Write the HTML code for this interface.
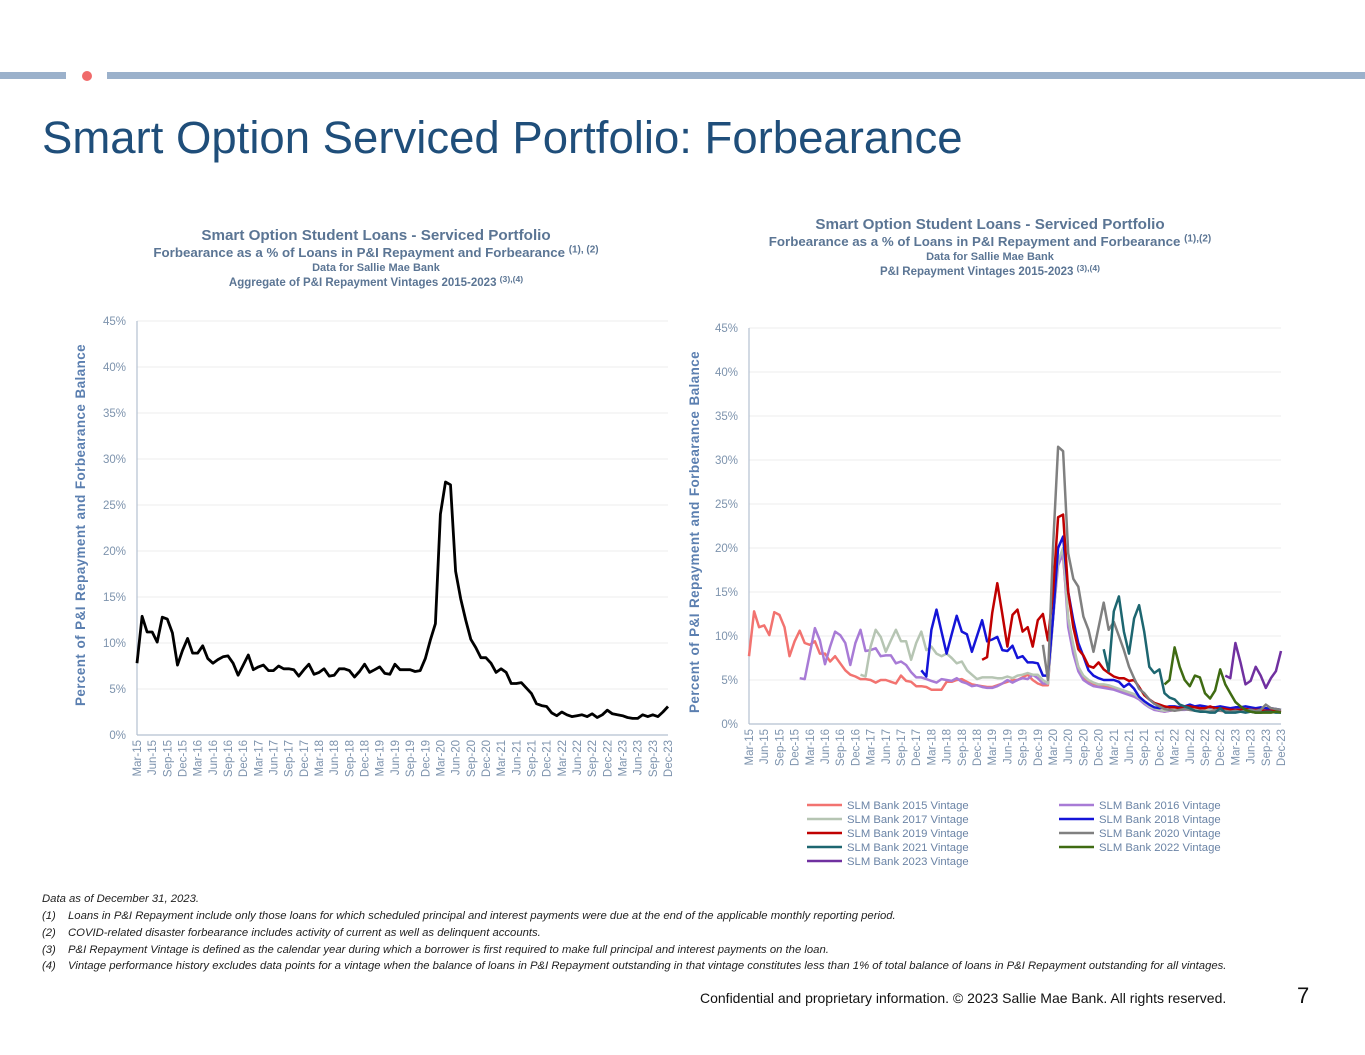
<!DOCTYPE html>
<html><head><meta charset="utf-8">
<style>
body{margin:0;width:1365px;height:1055px;background:#fff;font-family:"Liberation Sans",sans-serif;position:relative;overflow:hidden}
.abs{position:absolute}
.ct{position:absolute;text-align:center;color:#5b7594;font-weight:bold;white-space:nowrap}
.fn{position:absolute;font-size:11.3px;font-style:italic;color:#222;white-space:nowrap}
sup{font-size:0.75em;vertical-align:0.45em;line-height:0}
</style></head><body>
<div class="abs" style="left:0;top:72px;width:66px;height:7px;background:#9bb1cb"></div>
<div class="abs" style="left:82px;top:71px;width:10px;height:10px;border-radius:50%;background:#f06a6a"></div>
<div class="abs" style="left:107px;top:72px;width:1258px;height:7px;background:#9bb1cb"></div>
<div class="abs" style="left:42px;top:112px;font-size:45.5px;color:#1f4e7a;white-space:nowrap">Smart Option Serviced Portfolio: Forbearance</div>

<div class="ct" style="left:126px;width:500px;top:227px;font-size:15.2px">Smart Option Student Loans - Serviced Portfolio</div>
<div class="ct" style="left:76px;width:600px;top:245px;font-size:13.3px">Forbearance as a % of Loans in P&amp;I Repayment and Forbearance <sup>(1), (2)</sup></div>
<div class="ct" style="left:126px;width:500px;top:262px;font-size:11px">Data for Sallie Mae Bank</div>
<div class="ct" style="left:126px;width:500px;top:277px;font-size:11.5px">Aggregate of P&amp;I Repayment Vintages 2015-2023 <sup>(3),(4)</sup></div>

<div class="ct" style="left:740px;width:500px;top:216px;font-size:15.2px">Smart Option Student Loans - Serviced Portfolio</div>
<div class="ct" style="left:690px;width:600px;top:234px;font-size:13.3px">Forbearance as a % of Loans in P&amp;I Repayment and Forbearance <sup>(1),(2)</sup></div>
<div class="ct" style="left:740px;width:500px;top:251px;font-size:11px">Data for Sallie Mae Bank</div>
<div class="ct" style="left:740px;width:500px;top:266px;font-size:11.5px">P&amp;I Repayment Vintages 2015-2023 <sup>(3),(4)</sup></div>

<svg id="chart" class="abs" style="left:0;top:0" width="1365" height="1055"></svg>

<div class="fn" style="left:42px;top:893px">Data as of December 31, 2023.</div>
<div class="fn" style="left:42px;top:910px">(1)<span style="position:absolute;left:26px">Loans in P&amp;I Repayment include only those loans for which scheduled principal and interest payments were due at the end of the applicable monthly reporting period.</span></div>
<div class="fn" style="left:42px;top:927px">(2)<span style="position:absolute;left:26px">COVID-related disaster forbearance includes activity of current as well as delinquent accounts.</span></div>
<div class="fn" style="left:42px;top:944px">(3)<span style="position:absolute;left:26px">P&amp;I Repayment Vintage is defined as the calendar year during which a borrower is first required to make full principal and interest payments on the loan.</span></div>
<div class="fn" style="left:42px;top:960px">(4)<span style="position:absolute;left:26px">Vintage performance history excludes data points for a vintage when the balance of loans in P&amp;I Repayment outstanding in that vintage constitutes less than 1% of total balance of loans in P&amp;I Repayment outstanding for all vintages.</span></div>
<div class="abs" style="left:700px;top:990px;font-size:14px;color:#111;white-space:nowrap">Confidential and proprietary information. © 2023 Sallie Mae Bank. All rights reserved.</div>
<div class="abs" style="left:1297px;top:983px;font-size:22px;color:#111">7</div>

<script>
const months=["Mar","Apr","May","Jun","Jul","Aug","Sep","Oct","Nov","Dec","Jan","Feb"];
const categories=[];
for(let i=0;i<106;i++){const m=(i)%12;const yr=15+Math.floor((i+2)/12);categories.push(months[m]+"-"+yr);}
const yTicks=[0,5,10,15,20,25,30,35,40,45];
const aggregate=[7.8,12.9,11.2,11.2,10.1,12.8,12.6,11.1,7.6,9.2,10.5,8.9,8.9,9.7,8.3,7.8,8.2,8.5,8.6,7.8,6.5,7.6,8.7,7.1,7.4,7.6,7.0,7.0,7.5,7.2,7.2,7.1,6.4,7.1,7.7,6.6,6.8,7.2,6.4,6.5,7.2,7.2,7.0,6.3,6.9,7.7,6.8,7.1,7.4,6.7,6.6,7.7,7.1,7.1,7.1,6.9,7.0,8.3,10.3,12.1,24,27.5,27.2,17.8,14.8,12.5,10.4,9.5,8.4,8.4,7.8,6.8,7.2,6.8,5.6,5.6,5.7,5.1,4.5,3.4,3.2,3.1,2.4,2.1,2.5,2.2,2.0,2.1,2.2,2.0,2.3,1.9,2.2,2.7,2.3,2.2,2.1,1.9,1.8,1.8,2.2,2.0,2.2,2.0,2.5,3.1];
const seriesNames=["SLM Bank 2015 Vintage","SLM Bank 2016 Vintage","SLM Bank 2017 Vintage","SLM Bank 2018 Vintage","SLM Bank 2019 Vintage","SLM Bank 2020 Vintage","SLM Bank 2021 Vintage","SLM Bank 2022 Vintage","SLM Bank 2023 Vintage"];
const seriesStart=[0,10,22,34,46,58,70,82,94];
const v2015=[7.7,12.8,11,11.2,10.1,12.7,12.4,11,7.7,9.4,10.6,9.2,9.0,9.4,8.0,8.0,7.1,7.7,6.9,6.1,5.6,5.4,5.1,5.1,5.0,4.7,5.0,5.0,4.8,4.6,5.5,4.9,4.8,4.3,4.3,4.2,3.9,3.9,3.9,4.8,4.8,5.0,5.1,4.8,4.5,4.4,4.3,4.2,4.2,4.4,4.6,4.8,5.0,5.0,5.3,5.6,5.0,4.6,4.4,4.4,12,18.5,19,12,8.5,6.5,5.2,4.8,4.5,4.4,4.3,4.2,4.0,3.8,3.6,3.5,3.2,3.0,2.5,2.0,1.7,1.5,1.4,1.5,1.6,1.6,1.7,1.6,1.6,1.5,1.5,1.6,1.5,1.5,1.4,1.5,1.5,1.4,1.5,1.5,1.6,1.6,1.5,1.5,1.5,1.4];
const v2016=[5.2,5.1,8.0,10.9,9.5,6.8,8.8,10.5,10.1,9.2,6.7,9.2,10.7,8.3,8.4,8.6,7.7,7.8,7.8,6.9,7.1,6.7,5.9,5.3,5.3,5.1,4.9,4.7,5.1,5.0,4.9,5.2,4.8,4.6,4.3,4.4,4.2,4.1,4.1,4.3,4.6,5.0,4.7,5.0,5.2,5.1,5.6,5.2,4.6,4.6,12,18,19.5,11,8,6,5.0,4.6,4.3,4.2,4.1,4.0,3.9,3.7,3.5,3.3,3.1,2.8,2.3,1.9,1.6,1.5,1.4,1.5,1.6,1.6,1.6,1.7,1.6,1.6,1.5,1.6,1.5,1.5,1.5,1.5,1.5,1.5,1.5,1.6,1.6,1.5,1.6,1.5,1.5,1.5];
const v2017=[5.6,5.4,8.8,10.7,9.9,8.2,9.5,10.7,9.4,9.4,7.3,9.2,10.5,8.4,8.8,8.0,7.7,8.0,7.5,6.9,7.1,6.1,5.6,5.1,5.3,5.3,5.3,5.2,5.2,5.4,5.2,5.5,5.6,5.8,5.6,5.6,5.0,4.6,12,18.5,20,12,9,6.5,5.5,5.0,4.7,4.5,4.5,4.4,4.2,4.0,3.8,3.6,3.4,3.0,2.5,2.0,1.8,1.6,1.5,1.6,1.7,1.7,1.7,1.8,1.7,1.7,1.6,1.7,1.6,1.6,1.6,1.6,1.6,1.6,1.7,1.8,1.8,1.7,1.7,1.6,1.6,1.6];
const v2018=[6.1,5.4,10.7,13,10.5,8,10.2,12.3,10.5,10.2,8.2,10,11.8,9.4,9.6,9.9,8.4,8.3,8.9,7.5,7.7,7.0,7.0,6.9,5.5,5.5,12,20,21.3,15,11.8,9.2,7.7,6.1,5.5,5.2,5.0,5.0,5.0,4.8,4.2,4.6,4.0,3.1,2.6,2.2,1.9,1.8,1.9,2.0,2.0,1.9,2.0,2.2,2.0,2.1,2.0,1.9,1.9,2.0,1.9,1.8,1.9,1.9,2.0,1.9,1.8,1.9,1.8,1.8,1.7,1.6];
const v2019=[7.3,7.6,12.6,16,12.5,8.8,12.4,13,10.5,11,8.8,11.8,12.5,9.5,15,23.5,23.8,15,11,8.5,7.8,6.6,6.4,7.0,6.2,5.8,5.4,5.2,5.2,4.9,5.0,4.2,3.3,2.8,2.4,2.2,2.0,1.9,1.9,1.8,2.0,2.0,1.9,1.8,1.8,2.0,1.8,1.8,1.7,1.6,1.6,1.6,1.7,1.6,1.6,1.6,1.5,1.5,1.5,1.4];
const v2020=[9,5,20,31.5,31,19.4,16.5,15.6,12.2,10.7,8.2,11,13.8,10.7,11.6,10,8.4,6.5,5.2,4,3.5,2.8,2.3,2.0,1.7,1.6,1.5,1.6,1.7,1.6,1.5,1.5,1.4,1.4,1.6,1.5,1.5,1.4,1.5,1.4,1.5,1.6,1.5,1.6,2.2,1.8,1.7,1.6];
const v2021=[8.5,6.0,12.8,14.5,10.5,8,12,13.5,10.5,6.5,5.8,6.2,3.5,3.0,2.8,2.2,2.0,1.8,1.5,1.4,1.4,1.3,1.3,1.8,1.3,1.3,1.3,1.4,1.3,1.4,1.3,1.3,1.4,1.4,1.3,1.3];
const v2022=[4.5,5.0,8.7,6.5,5.0,4.3,5.5,5.3,3.5,2.9,3.8,6.2,4.5,3.5,2.5,2.0,1.6,1.4,1.3,1.3,1.3,1.3,1.4,1.3];
const v2023=[5.5,5.2,9.2,7.0,4.5,4.9,6.5,5.5,4.1,5.2,6.0,8.3];
const seriesColors=["#f27370","#a87bd6","#b6c5b3","#1414d8","#c00000","#808080","#1d6670","#3f6b12","#7030a0"];
const seriesValues=[v2015,v2016,v2017,v2018,v2019,v2020,v2021,v2022,v2023];

const NS="http://www.w3.org/2000/svg";
const svg=document.getElementById("chart");
function mk(tag,attrs,parent){const e=document.createElementNS(NS,tag);for(const k in attrs)e.setAttribute(k,attrs[k]);(parent||svg).appendChild(e);return e;}

function drawAxes(P,prefix){
  const g=mk("g",{});
  
  
  yTicks.forEach(t=>{
    const y=P.y(t);
    if(t>0){const l=mk("line",{x1:P.x0,x2:P.x1,y1:y,y2:y,stroke:"#eeeeee","stroke-width":1},g);
      
      }
    const tx=mk("text",{x:P.x0-11,y:y+4,"text-anchor":"end","font-size":11.5,fill:"#7d93ad","font-family":"Liberation Sans, sans-serif"},g);
    tx.textContent=t+"%";
    
    
  });
  const ax=mk("line",{x1:P.x0,x2:P.x0,y1:P.y(45),y2:P.y(0),stroke:"#b3c0d0","stroke-width":1.2},g);
  
  
  const bx=mk("line",{x1:P.x0,x2:P.x1,y1:P.y(0),y2:P.y(0),stroke:"#b3c0d0","stroke-width":1.2},g);
  
  
  categories.forEach((c,i)=>{
    if(i%3!==0)return;
    const x=P.x(i);
    const tx=mk("text",{x:0,y:0,transform:`translate(${x+4},${P.y(0)+5}) rotate(-90)`,"text-anchor":"end","font-size":11.5,fill:"#7d93ad","font-family":"Liberation Sans, sans-serif"},g);
    tx.textContent=c;
    
    
  });
  const yt=mk("text",{x:0,y:0,transform:`translate(${P.titleX},${P.titleY}) rotate(-90)`,"text-anchor":"middle","font-size":13.5,"font-weight":"bold","letter-spacing":"0.4","word-spacing":"1",fill:"#5b7fb0","font-family":"Liberation Sans, sans-serif"},g);
  yt.textContent="Percent of P&I Repayment and Forbearance  Balance";
  
  
}
function linePath(P,start,vals){return vals.map((v,k)=>(k?"L":"M")+P.x(start+k).toFixed(1)+" "+P.y(v).toFixed(1)).join(" ");}

const L={x0:137,x1:668,titleX:85,titleY:525};
L.x=i=>L.x0+i*(L.x1-L.x0)/(categories.length-1);
L.y=v=>735-v*(735-321)/45;
drawAxes(L,"left");
const agg=mk("path",{d:linePath(L,0,aggregate),fill:"none",stroke:"#000","stroke-width":2.8,"stroke-linejoin":"round"});



const R={x0:749,x1:1281,titleX:699,titleY:532};
R.x=i=>R.x0+i*(R.x1-R.x0)/(categories.length-1);
R.y=v=>724-v*(724-328)/45;
drawAxes(R,"right");
seriesValues.forEach((vals,s)=>{
  const p=mk("path",{d:linePath(R,seriesStart[s],vals),fill:"none",stroke:seriesColors[s],"stroke-width":2.5,"stroke-linejoin":"round"});
  
  
});
seriesNames.forEach((n,s)=>{
  const col=s%2, row=Math.floor(s/2);
  const lx=col?1059:807, ly=805+row*14;
  const g=mk("g",{});
  
  
  mk("line",{x1:lx,x2:lx+35,y1:ly,y2:ly,stroke:seriesColors[s],"stroke-width":2.5},g);
  const t=mk("text",{x:lx+40,y:ly+4,"font-size":11.3,fill:"#6b84a6","font-family":"Liberation Sans, sans-serif"},g);
  t.textContent=n;
});
</script>
</body></html>
